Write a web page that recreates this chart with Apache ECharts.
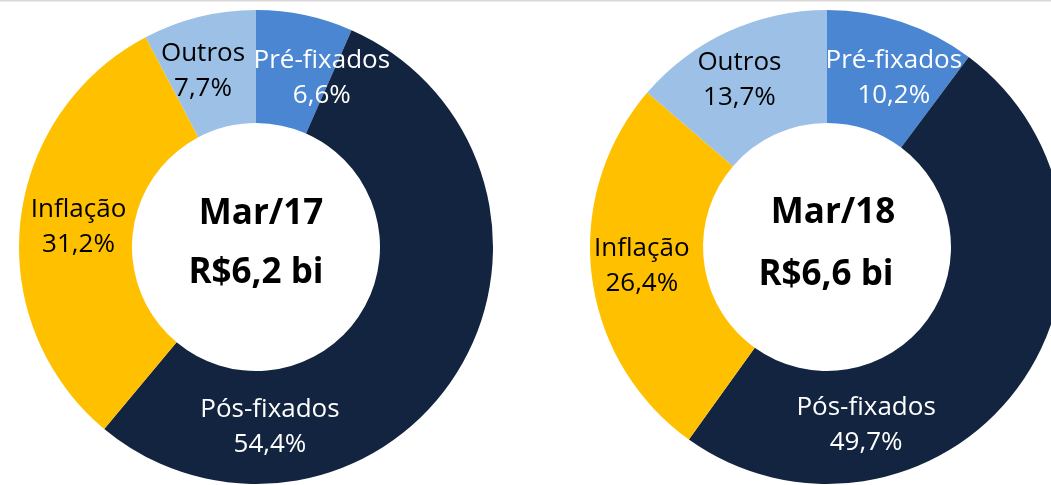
<!DOCTYPE html>
<html>
<head>
<meta charset="utf-8">
<script src="https://cdn.jsdelivr.net/npm/echarts@6/dist/echarts.min.js"></script>
<style>
  html, body { margin: 0; padding: 0; background: #fff; }
  #chartArea { width: 1051px; height: 485px; }
</style>
</head>
<body>
<div id="chartArea"></div>
<script>
// dados
const categorias = ['Pré-fixados', 'Pós-fixados', 'Inflação', 'Outros'];
const valoresMar17 = [6.6, 54.4, 31.2, 7.7];
const valoresMar18 = [10.2, 49.7, 26.4, 13.7];
const periodos = ['Mar/17', 'Mar/18'];
const totais = ['R$6,2 bi', 'R$6,6 bi'];

// cores
const cores = ['#4A86D2', '#12243F', '#FFC000', '#9DC0E7'];
const corTexto = ['#ffffff', '#ffffff', '#000000', '#000000'];

// deslocamento dos rótulos (estilo Excel)
const deslocMar17 = [[28, 11], [-142, 83], [5, -1], [-9, 2]];
const deslocMar18 = [[9, 5], [-109, 70], [-3, -3], [-11, 0]];

const chartDom = document.getElementById('chartArea');
const myChart = echarts.init(chartDom);

const fonte = '"Open Sans", "Noto Sans", sans-serif';

function montarSerie(valores, centro, desloc) {
    return {
        type: 'pie',
        center: centro,
        radius: [124, 237],
        startAngle: 90,
        clockwise: true,
        silent: true,
        avoidLabelOverlap: false,
        itemStyle: { borderWidth: 0 },
        label: {
            show: true,
            position: 'inside',
            fontFamily: fonte,
            fontSize: 26,
            lineHeight: 35,
            align: 'center',
            formatter: p => p.name + '\n' + p.value.toFixed(1).replace('.', ',') + '%'
        },
        labelLine: { show: false },
        labelLayout: p => ({ dx: desloc[p.dataIndex][0], dy: desloc[p.dataIndex][1] }),
        data: categorias.map((nome, i) => ({
            name: nome,
            value: valores[i],
            itemStyle: { color: cores[i] },
            label: { color: corTexto[i] }
        }))
    };
}

function textoCentro(x, y, texto) {
    return {
        type: 'text',
        x: x,
        y: y,
        style: {
            text: texto,
            fill: '#000',
            font: 'bold 35px ' + fonte,
            textAlign: 'center',
            textVerticalAlign: 'middle'
        }
    };
}

const option = {
    animation: false,
    graphic: [
        { type: 'line', shape: { x1: 0, y1: 0.5, x2: 1051, y2: 0.5 }, style: { stroke: '#d9d9d9', lineWidth: 2 } },
        textoCentro(261, 214, periodos[0]),
        textoCentro(256, 273, totais[0]),
        textoCentro(833, 213, periodos[1]),
        textoCentro(826, 275, totais[1])
    ],
    series: [
        montarSerie(valoresMar17, [256, 247], deslocMar17),
        montarSerie(valoresMar18, [827, 247], deslocMar18)
    ]
};

myChart.setOption(option);
</script>
</body>
</html>
